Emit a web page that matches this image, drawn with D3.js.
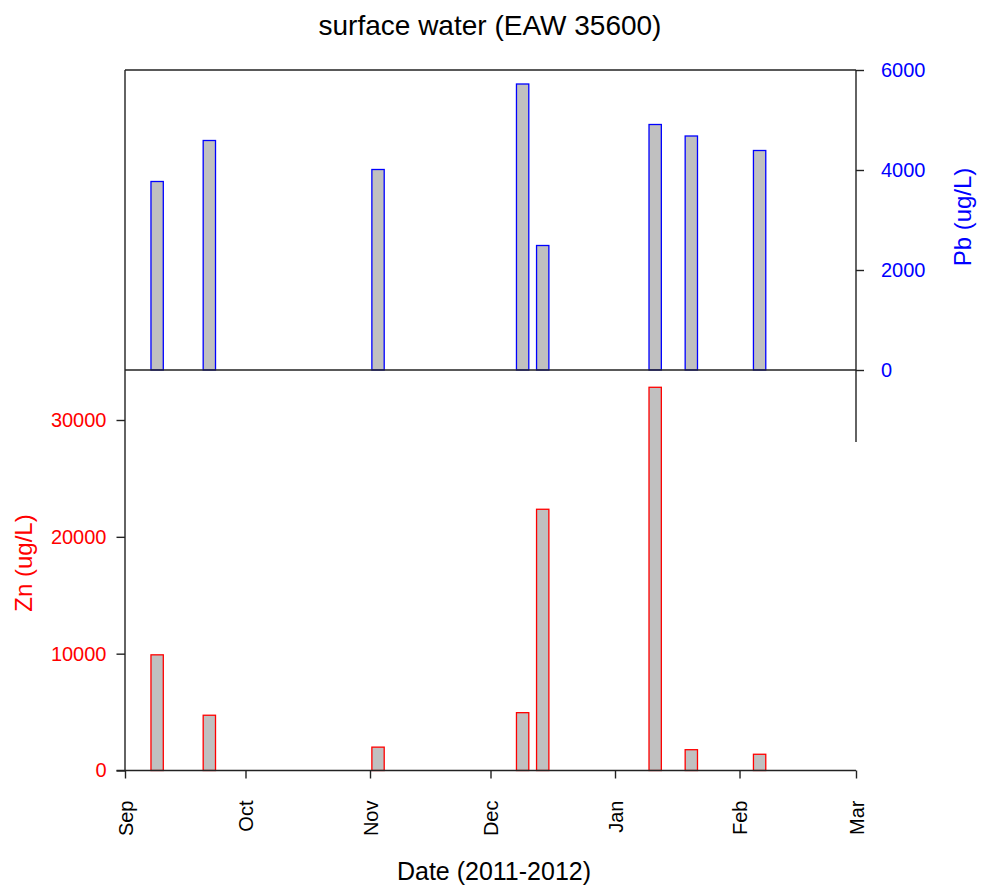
<!DOCTYPE html>
<html>
<head>
<meta charset="utf-8">
<script src="https://cdn.jsdelivr.net/npm/d3@7"></script>
<style>
  html, body { margin: 0; padding: 0; background: #fff; }
  svg { display: block; font-family: "Liberation Sans", Arial, sans-serif; }
</style>
</head>
<body>
<svg id="chart" width="981" height="888"></svg>
<script>
// ---- data ----
const sampleDates = ["2011-09-09", "2011-09-22", "2011-11-03", "2011-12-09", "2011-12-14", "2012-01-11", "2012-01-20", "2012-02-06"];
const pbValues = [3770, 4590, 4010, 5720, 2490, 4910, 4680, 4390];
const znValues = [9900, 4730, 2000, 4950, 22360, 32800, 1780, 1390];
const pbTicks = [0, 2000, 4000, 6000];
const znTicks = [0, 10000, 20000, 30000];
const monthTicks = ["2011-09-01", "2011-10-01", "2011-11-01", "2011-12-01", "2012-01-01", "2012-02-01", "2012-03-01"];
const monthLabels = ["Sep", "Oct", "Nov", "Dec", "Jan", "Feb", "Mar"];
const titleText = "surface water (EAW 35600)";
const xTitle = "Date (2011-2012)";
const pbTitle = "Pb (ug/L)";
const znTitle = "Zn (ug/L)";

// ---- layout ----
const svg = d3.select("#chart");
const L = 125, R = 856, T = 70, MID = 370, B = 770.5;
const axisColor = "#222";
const parse = d3.utcParse("%Y-%m-%d");
const dates = sampleDates.map(parse);

const x = d3.scaleUtc().domain([parse("2011-09-01"), parse("2012-03-01")]).range([L, R]);
const yPb = d3.scaleLinear().domain([0, 6000]).range([MID, T]);
const yZn = d3.scaleLinear().domain([0, 30000]).range([B, 420]);

const barDays = 3.07;
const barW = x(d3.utcDay.offset(parse("2011-09-01"), 0)) ; // placeholder
function bw(d) { return x(new Date(d.getTime() + barDays * 864e5)) - x(d); }

// title
svg.append("text").attr("x", 490).attr("y", 35).attr("text-anchor", "middle")
  .attr("font-size", 28).attr("fill", "#000").text(titleText);

// bars - Pb
svg.append("g").selectAll("rect").data(dates).join("rect")
  .attr("x", d => x(d) - bw(d) / 2)
  .attr("width", d => bw(d))
  .attr("y", (d, i) => yPb(pbValues[i]))
  .attr("height", (d, i) => yPb(0) - yPb(pbValues[i]))
  .attr("fill", "#c0c0c0").attr("stroke", "#0000ff").attr("stroke-width", 1.3);

// bars - Zn
svg.append("g").selectAll("rect").data(dates).join("rect")
  .attr("x", d => x(d) - bw(d) / 2)
  .attr("width", d => bw(d))
  .attr("y", (d, i) => yZn(znValues[i]))
  .attr("height", (d, i) => yZn(0) - yZn(znValues[i]))
  .attr("fill", "#c0c0c0").attr("stroke", "#ff0000").attr("stroke-width", 1.3);

// frame lines
const frame = svg.append("g").attr("stroke", axisColor).attr("stroke-width", 1.4).attr("fill", "none");
frame.append("line").attr("x1", L).attr("x2", R).attr("y1", T).attr("y2", T);
frame.append("line").attr("x1", L).attr("x2", R).attr("y1", MID).attr("y2", MID);
frame.append("line").attr("x1", L).attr("x2", L).attr("y1", T).attr("y2", B);

// right Pb axis
const pbAxis = svg.append("g").attr("transform", `translate(${R},0)`)
  .call(d3.axisRight(yPb).tickValues(pbTicks).tickSize(8).tickPadding(17).tickFormat(d3.format("d")));
pbAxis.select(".domain").remove();
pbAxis.selectAll(".tick line").attr("stroke", axisColor).attr("stroke-width", 1.4);
pbAxis.selectAll(".tick text").attr("fill", "#0000ff").attr("font-size", 20)
  .attr("font-family", "Liberation Sans, Arial, sans-serif");
svg.append("line").attr("x1", R).attr("x2", R).attr("y1", T).attr("y2", 442)
  .attr("stroke", axisColor).attr("stroke-width", 1.4);

// left Zn axis
const znAxis = svg.append("g").attr("transform", `translate(${L},0)`)
  .call(d3.axisLeft(yZn).tickValues(znTicks).tickSize(8.5).tickPadding(10).tickFormat(d3.format("d")));
znAxis.select(".domain").remove();
znAxis.selectAll(".tick line").attr("stroke", axisColor).attr("stroke-width", 1.4);
znAxis.selectAll(".tick text").attr("fill", "#ff0000").attr("font-size", 20)
  .attr("font-family", "Liberation Sans, Arial, sans-serif");

// bottom x axis
const xAxis = svg.append("g").attr("transform", `translate(0,${B})`)
  .call(d3.axisBottom(x).tickValues(monthTicks.map(parse)).tickSize(8)
    .tickFormat((d, i) => monthLabels[i]));
xAxis.select(".domain").remove();
xAxis.selectAll(".tick line").attr("stroke", axisColor).attr("stroke-width", 1.4);
xAxis.selectAll(".tick text")
  .attr("font-size", 20).attr("fill", "#000")
  .attr("font-family", "Liberation Sans, Arial, sans-serif")
  .attr("text-anchor", "end")
  .attr("transform", "rotate(-90)")
  .attr("x", -30).attr("y", 0).attr("dy", "0.36em");
svg.append("line").attr("x1", 116.5).attr("x2", R).attr("y1", B).attr("y2", B)
  .attr("stroke", axisColor).attr("stroke-width", 1.4);

// axis titles
svg.append("text").attr("x", 494).attr("y", 880).attr("text-anchor", "middle")
  .attr("font-size", 25).attr("fill", "#000").text(xTitle);
svg.append("text").attr("transform", "translate(962,217) rotate(-90)")
  .attr("text-anchor", "middle").attr("dy", "0.36em")
  .attr("font-size", 24).attr("fill", "#0000ff").text(pbTitle);
svg.append("text").attr("transform", "translate(23,563) rotate(-90)")
  .attr("text-anchor", "middle").attr("dy", "0.36em")
  .attr("font-size", 24).attr("fill", "#ff0000").text(znTitle);
</script>
</body>
</html>
